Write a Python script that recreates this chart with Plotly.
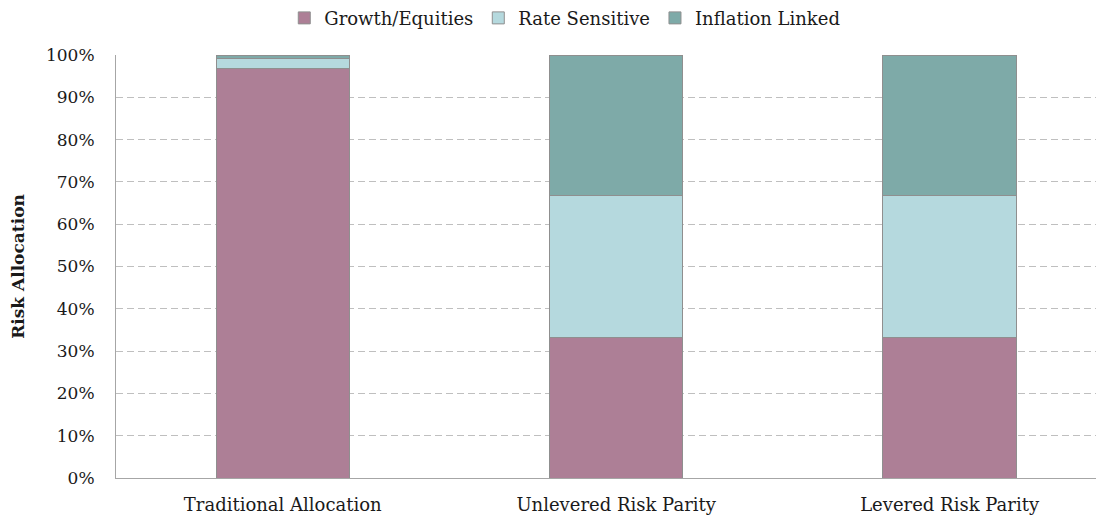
import plotly.graph_objects as go

categories = ["Traditional Allocation", "Unlevered Risk Parity", "Levered Risk Parity"]
growth = [0.969, 0.3333, 0.3333]
rate_sensitive = [0.023, 0.3334, 0.3334]
inflation_linked = [0.008, 0.3333, 0.3333]
series_names = ["Growth/Equities", "Rate Sensitive", "Inflation Linked"]
colors = ["#AD7F96", "#B5D9DE", "#7EAAA8"]
y_ticks = [i / 10 for i in range(11)]

FONT = "DejaVu Serif"

fig = go.Figure()
for name, vals, col in zip(series_names, [growth, rate_sensitive, inflation_linked], colors):
    fig.add_trace(go.Bar(
        x=categories, y=vals, name=name,
        marker=dict(color=col, line=dict(color="#8f8f8f", width=1)),
        width=0.4,
    ))

# page body has an 8px margin, so the figure is sized/placed to compensate
fig.update_layout(
    barmode="stack",
    width=1096, height=509,
    margin=dict(l=108, r=0, t=47, b=39),
    paper_bgcolor="white", plot_bgcolor="white",
    font=dict(family=FONT, size=18, color="#1a1a1a"),
    legend=dict(orientation="h", x=0.508, xanchor="center", xref="container",
                y=0.980, yanchor="middle", yref="container", traceorder="normal",
                font=dict(family=FONT, size=18), itemwidth=30, tracegroupgap=0),
    xaxis=dict(range=[-0.5, 2.463], showline=True, linecolor="#a6a6a6", linewidth=1,
               showgrid=False, ticks="", tickfont=dict(family=FONT, size=18),
               ticklabelstandoff=10, automargin=False),
    yaxis=dict(range=[0, 1], tickvals=y_ticks, tickformat=".0%", showline=True,
               linecolor="#a6a6a6", linewidth=1, showgrid=True, gridcolor="#bfbfbf",
               griddash="7px,4px", gridwidth=1, zeroline=False, ticks="",
               tickfont=dict(family=FONT, size=17), ticklabelstandoff=17, automargin=False,
               title=dict(text="<b>Risk Allocation</b>", font=dict(family=FONT, size=17), standoff=17)),
)

fig.write_html("out.html")
